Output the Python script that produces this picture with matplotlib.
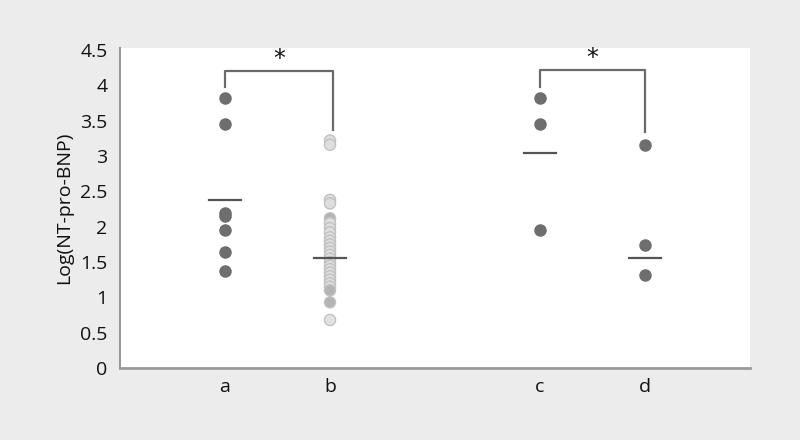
import matplotlib
matplotlib.use('Agg')
import matplotlib.pyplot as plt

# data
groups = ['a', 'b', 'c', 'd']
xpos = [1, 2, 4, 5]
vals_a = [3.82, 3.45, 2.19, 2.15, 1.95, 1.64, 1.38]
vals_b = [3.22, 3.16, 2.38, 2.33, 2.12, 2.05, 1.98, 1.92, 1.85, 1.80, 1.75, 1.70,
          1.65, 1.60, 1.55, 1.50, 1.45, 1.40, 1.35, 1.30, 1.25, 1.20, 1.15, 1.10,
          0.93, 0.68]
vals_c = [3.82, 3.45, 1.95]
vals_d = [3.15, 1.74, 1.31]
mean_lines = [2.38, 1.56, 3.04, 1.56]
yticks = [0, 0.5, 1, 1.5, 2, 2.5, 3, 3.5, 4, 4.5]

# brackets: (x1, x2, left leg end, right leg end, top)
brackets = [(1, 2.03, 3.98, 3.37, 4.21), (4, 5.0, 3.98, 3.34, 4.22)]

plt.rcParams['font.family'] = ['Open Sans', 'DejaVu Sans']
fig = plt.figure(figsize=(8, 4.4), dpi=100)
fig.patch.set_facecolor('#ececec')
ax = fig.add_axes([0.15, 72/440, 0.7875, 320/440])
ax.set_facecolor('white')

dark = '#6e6e6e'
ax.scatter([xpos[0]]*len(vals_a), vals_a, s=64, color=dark, zorder=3)
# group b: light, semi-transparent, overlapping
b_colors = []
for v in vals_b:
    if v in (2.12, 0.93, 1.10):
        b_colors.append('#b4b4b4')
    elif v == 0.68:
        b_colors.append('#e2e2e2')
    else:
        b_colors.append('#dedede')
ax.scatter([xpos[1]]*len(vals_b), vals_b, s=64, color=b_colors,
           edgecolors='#c2c2c2', linewidths=1.0, zorder=3)
ax.scatter([xpos[2]]*len(vals_c), vals_c, s=64, color=dark, zorder=3)
ax.scatter([xpos[3]]*len(vals_d), vals_d, s=64, color=dark, zorder=3)

for x, m in zip(xpos, mean_lines):
    ax.plot([x - 0.155, x + 0.155], [m, m], color='#555555', lw=1.6, zorder=4)

for x1, x2, l1, l2, top in brackets:
    ax.plot([x1, x1, x2, x2], [l1, top, top, l2], color='#6a6a6a', lw=1.6, zorder=2)
    ax.text((x1 + x2) / 2, top + 0.0, '*', ha='center', va='bottom', fontsize=17,
            color='#111111', family='DejaVu Sans')

ax.set_xlim(0, 6)
ax.set_ylim(0, 4.53)
ax.set_xticks(xpos)
ax.set_xticklabels(groups, fontsize=14)
ax.set_yticks(yticks)
ax.set_yticklabels([str(t) if t != int(t) else str(int(t)) for t in yticks], fontsize=14)
ax.tick_params(axis='both', length=0, colors='#111111')
ax.tick_params(axis='y', pad=9)
ax.tick_params(axis='x', pad=7)
ax.spines['top'].set_visible(False)
ax.spines['right'].set_visible(False)
ax.spines['left'].set_color('#9a9a9a')
ax.spines['bottom'].set_color('#9a9a9a')
ax.spines['left'].set_linewidth(1.5)
ax.spines['bottom'].set_linewidth(2.0)
ax.set_ylabel('Log(NT-pro-BNP)', fontsize=14, color='#111111', labelpad=5)

fig.savefig('out.png', dpi=100, facecolor=fig.get_facecolor())
print('done')
